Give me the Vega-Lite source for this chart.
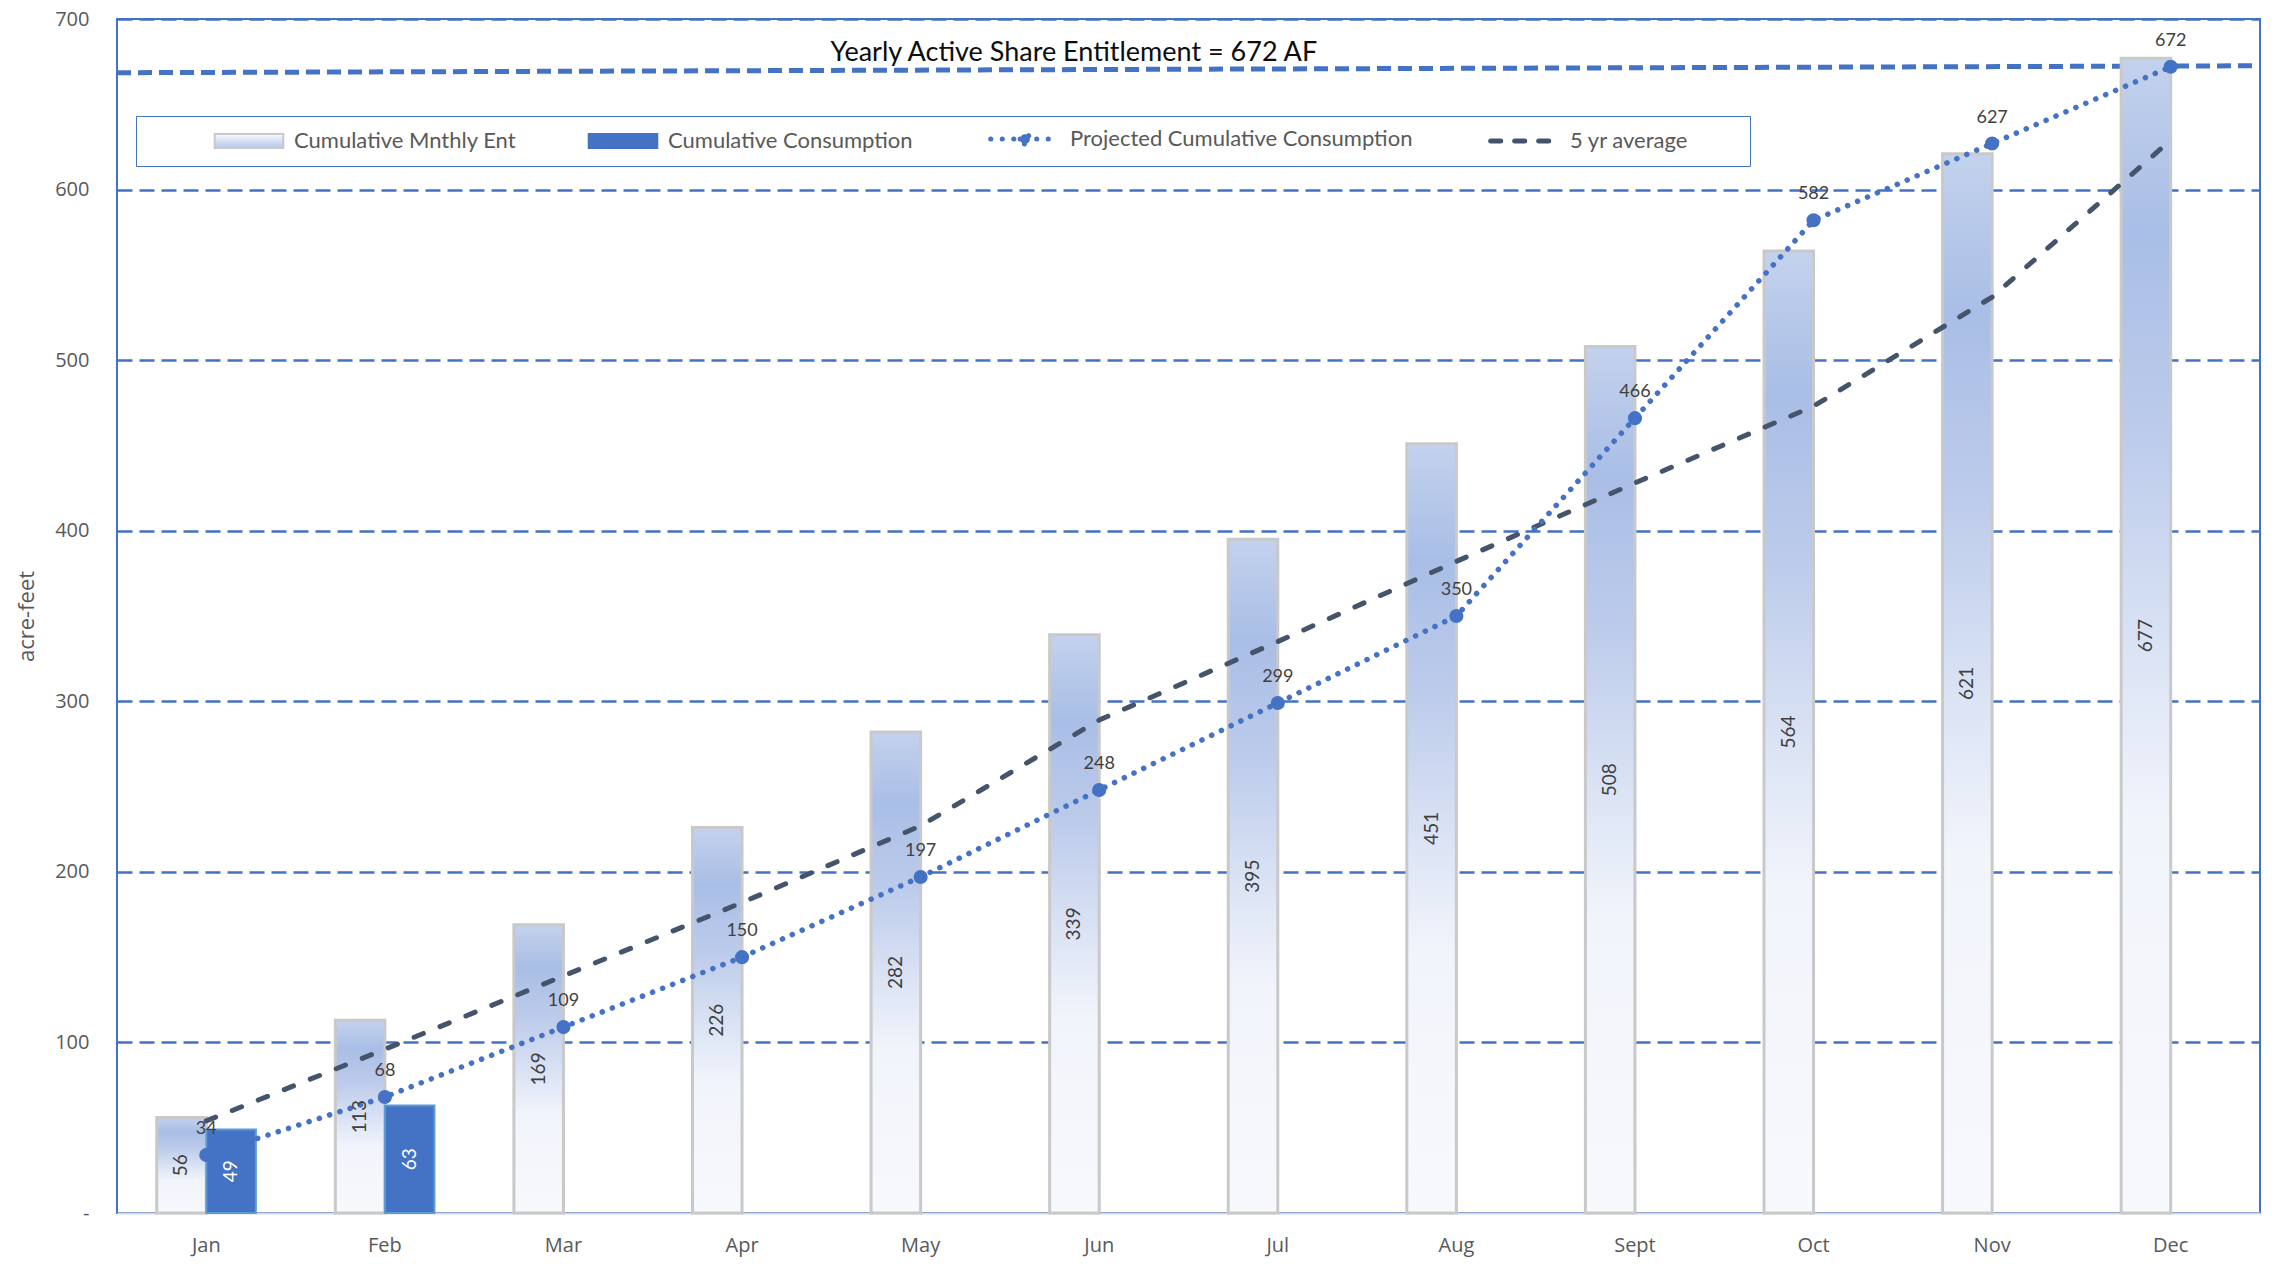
{
  "$schema": "https://vega.github.io/schema/vega-lite/v6.json",
  "width": 2143,
  "height": 1194,
  "autosize": {"type": "none"},
  "padding": {"left": 117, "top": 19, "right": 17, "bottom": 51},
  "background": "#ffffff",
  "config": {
    "font": "Lato",
    "view": {"stroke": "#4472c4", "strokeWidth": 2}
  },
  "datasets": {
    "bars": [
      {"month": "Jan", "series": "ent", "value": 56},
      {"month": "Feb", "series": "ent", "value": 113},
      {"month": "Mar", "series": "ent", "value": 169},
      {"month": "Apr", "series": "ent", "value": 226},
      {"month": "May", "series": "ent", "value": 282},
      {"month": "Jun", "series": "ent", "value": 339},
      {"month": "Jul", "series": "ent", "value": 395},
      {"month": "Aug", "series": "ent", "value": 451},
      {"month": "Sept", "series": "ent", "value": 508},
      {"month": "Oct", "series": "ent", "value": 564},
      {"month": "Nov", "series": "ent", "value": 621},
      {"month": "Dec", "series": "ent", "value": 677},
      {"month": "Jan", "series": "cons", "value": 49},
      {"month": "Feb", "series": "cons", "value": 63}
    ],
    "lines": [
      {"month": "Jan", "proj": 34, "avg": 54},
      {"month": "Feb", "proj": 68, "avg": 96},
      {"month": "Mar", "proj": 109, "avg": 139},
      {"month": "Apr", "proj": 150, "avg": 182},
      {"month": "May", "proj": 197, "avg": 227},
      {"month": "Jun", "proj": 248, "avg": 289},
      {"month": "Jul", "proj": 299, "avg": 335},
      {"month": "Aug", "proj": 350, "avg": 382},
      {"month": "Sept", "proj": 466, "avg": 428},
      {"month": "Oct", "proj": 582, "avg": 473},
      {"month": "Nov", "proj": 627, "avg": 537},
      {"month": "Dec", "proj": 672, "avg": 629}
    ],
    "entitlement": [
      {"pos": 0, "af": 668.5},
      {"pos": 1, "af": 672.6}
    ],
    "caption": [
      {"label": "Yearly Active Share Entitlement = 672 AF"}
    ]
  },
  "resolve": {"scale": {"x": "independent", "y": "independent", "xOffset": "independent"}},
  "layer": [
    {
      "layer": [
        {
          "data": {"name": "entitlement"},
          "mark": {"type": "line", "stroke": "#4472c4", "strokeWidth": 5, "strokeDash": [14, 7]},
          "encoding": {
            "x": {"field": "pos", "type": "quantitative", "scale": {"domain": [0, 1], "nice": false, "zero": false}, "axis": null},
            "y": {"field": "af", "type": "quantitative", "scale": {"domain": [0, 700], "nice": false}, "axis": null}
          }
        },
        {
          "data": {"name": "caption"},
          "mark": {"type": "text", "font": "Lato", "fontSize": 27, "fill": "#0d0d0d", "baseline": "middle", "align": "center"},
          "encoding": {
            "x": {"datum": 0.4465, "type": "quantitative"},
            "y": {"datum": 680, "type": "quantitative"},
            "text": {"field": "label"}
          }
        }
      ]
    },
    {
      "layer": [
        {
          "data": {"name": "bars"},
          "transform": [{"filter": "datum.series === 'ent'"}],
          "mark": {
            "type": "bar",
            "fill": {
              "gradient": "linear", "x1": 0, "y1": 0, "x2": 0, "y2": 1,
              "stops": [
                {"offset": 0, "color": "#c3d2ed"},
                {"offset": 0.15, "color": "#a9bee6"},
                {"offset": 0.32, "color": "#bccbeb"},
                {"offset": 0.5, "color": "#d9e2f4"},
                {"offset": 0.66, "color": "#f1f4fb"},
                {"offset": 1, "color": "#f8f9fd"}
              ]
            },
            "stroke": "#c9c9c9",
            "strokeWidth": 3
          },
          "encoding": {
            "x": {
              "field": "month", "type": "nominal", "sort": null,
              "scale": {"domain": ["Jan", "Feb", "Mar", "Apr", "May", "Jun", "Jul", "Aug", "Sept", "Oct", "Nov", "Dec"], "paddingInner": 0.445, "paddingOuter": 0.2225},
              "axis": {
                "orient": "bottom", "title": null, "labelAngle": 0, "labelFont": "Open Sans", "labelFontSize": 20, "labelColor": "#595959",
                "labelPadding": 22, "ticks": false, "grid": false, "domainColor": "#d9d9d9", "domainWidth": 2
              }
            },
            "xOffset": {"field": "series", "scale": {"domain": ["ent", "cons"], "paddingInner": 0, "paddingOuter": 0}},
            "y": {
              "field": "value", "type": "quantitative",
              "scale": {"domain": [0, 700], "nice": false},
              "axis": {
                "orient": "left", "title": "acre-feet", "titleFont": "Open Sans", "titleFontSize": 22, "titleFontWeight": "normal",
                "titleColor": "#595959", "titlePadding": 16,
                "values": [0, 100, 200, 300, 400, 500, 600, 700],
                "labelExpr": "datum.value === 0 ? '-' : datum.label",
                "labelFont": "Open Sans", "labelFontSize": 20, "labelColor": "#595959", "labelPadding": 28,
                "ticks": false, "domain": false, "grid": true,
                "gridColor": {"condition": {"test": "datum.value === 0", "value": "transparent"}, "value": "#4472c4"},
                "gridDash": [15, 7], "gridWidth": 2.5
              }
            }
          }
        },
        {
          "data": {"name": "bars"},
          "transform": [{"filter": "datum.series === 'cons'"}],
          "mark": {"type": "bar", "fill": "#4472c4", "stroke": "#5b9bd5", "strokeWidth": 2},
          "encoding": {
            "x": {"field": "month", "type": "nominal", "sort": null, "scale": {"domain": ["Jan", "Feb", "Mar", "Apr", "May", "Jun", "Jul", "Aug", "Sept", "Oct", "Nov", "Dec"]}},
            "xOffset": {"field": "series", "scale": {"domain": ["ent", "cons"]}},
            "y": {"field": "value", "type": "quantitative", "scale": {"domain": [0, 700], "nice": false}}
          }
        },
        {
          "data": {"name": "lines"},
          "mark": {"type": "line", "stroke": "#44546a", "strokeWidth": 5, "strokeDash": [10, 18], "strokeCap": "round"},
          "encoding": {
            "x": {"field": "month", "type": "nominal", "sort": null, "scale": {"domain": ["Jan", "Feb", "Mar", "Apr", "May", "Jun", "Jul", "Aug", "Sept", "Oct", "Nov", "Dec"]}},
            "y": {"field": "avg", "type": "quantitative", "scale": {"domain": [0, 700], "nice": false}}
          }
        },
        {
          "data": {"name": "lines"},
          "mark": {"type": "line", "strokeWidth": 5.5, "strokeDash": [0.1, 10.7], "strokeCap": "round"},
          "encoding": {
            "x": {"field": "month", "type": "nominal", "sort": null, "scale": {"domain": ["Jan", "Feb", "Mar", "Apr", "May", "Jun", "Jul", "Aug", "Sept", "Oct", "Nov", "Dec"]}},
            "y": {"field": "proj", "type": "quantitative", "scale": {"domain": [0, 700], "nice": false}},
            "color": {
              "datum": "Projected Cumulative Consumption", "type": "nominal",
              "scale": {
                "domain": ["Cumulative Mnthly Ent", "Cumulative Consumption", "Projected Cumulative Consumption", "5 yr average"],
                "range": ["#c9c9c9", "#4472c4", "#4472c4", "#44546a"]
              },
              "legend": {
                "title": "\u00a0", "titleOrient": "left", "titlePadding": 90, "titleFontSize": 22,
                "orient": "none", "legendX": 19, "legendY": 97, "direction": "horizontal",
                "padding": 12, "strokeColor": "#4472c4", "fillColor": "#ffffff",
                "labelFont": "Lato", "labelFontSize": 22, "labelColor": "#595959", "labelLimit": 0, "labelOffset": 34,
                "columnPadding": 67, "symbolSize": 196,
                "labelExpr": "datum.value === '5 yr average' ? datum.label + '\u2003\u2003\u2003\u200b' : datum.label",
                "encode": {
                  "symbols": {
                    "update": {
                      "shape": {
                        "signal": "datum.value === 'Projected Cumulative Consumption' ? 'M-4.9,0H4.9M-0.7,0A0.7,0.7 0 1 1 0.7,0A0.7,0.7 0 1 1 -0.7,0Z' : datum.value === '5 yr average' ? 'M-4.9,0H4.9' : 'M-4.9,-1H4.9V1H-4.9Z'"
                      },
                      "fill": {
                        "signal": "datum.value === 'Cumulative Mnthly Ent' ? {gradient: 'linear', x1: 0, y1: 0, x2: 0, y2: 1, stops: [{offset: 0, color: '#f8f9fd'}, {offset: 1, color: '#b3c6e9'}]} : datum.value === '5 yr average' ? 'transparent' : '#4472c4'"
                      },
                      "stroke": {
                        "signal": "datum.value === 'Cumulative Mnthly Ent' ? '#c9c9c9' : datum.value === 'Cumulative Consumption' ? '#5b9bd5' : datum.value === '5 yr average' ? '#44546a' : '#4472c4'"
                      },
                      "strokeWidth": {
                        "signal": "datum.value === 'Cumulative Mnthly Ent' || datum.value === 'Cumulative Consumption' ? 2 : 5"
                      },
                      "strokeDash": {
                        "signal": "datum.value === 'Projected Cumulative Consumption' ? [0.1, 11.4] : datum.value === '5 yr average' ? [10, 14] : [1, 0]"
                      },
                      "strokeCap": {"value": "round"},
                      "opacity": {"value": 1}
                    }
                  }
                }
              }
            }
          }
        },
        {
          "data": {"name": "lines"},
          "mark": {"type": "point", "filled": true, "size": 200, "fill": "#4472c4", "opacity": 1},
          "encoding": {
            "x": {"field": "month", "type": "nominal", "sort": null, "scale": {"domain": ["Jan", "Feb", "Mar", "Apr", "May", "Jun", "Jul", "Aug", "Sept", "Oct", "Nov", "Dec"]}},
            "y": {"field": "proj", "type": "quantitative", "scale": {"domain": [0, 700], "nice": false}}
          }
        },
        {
          "data": {"name": "lines"},
          "mark": {"type": "text", "font": "Lato", "fontSize": 18, "fill": "#404040", "baseline": "middle", "align": "center", "dy": -26},
          "encoding": {
            "x": {"field": "month", "type": "nominal", "sort": null, "scale": {"domain": ["Jan", "Feb", "Mar", "Apr", "May", "Jun", "Jul", "Aug", "Sept", "Oct", "Nov", "Dec"]}},
            "y": {"field": "proj", "type": "quantitative", "scale": {"domain": [0, 700], "nice": false}},
            "text": {"field": "proj"}
          }
        }
      ]
    },
    {
      "layer": [
        {
          "data": {"name": "bars"},
          "transform": [{"filter": "datum.series === 'ent'"}],
          "mark": {"type": "text", "angle": 270, "font": "Lato", "fontSize": 19, "baseline": "middle", "align": "center", "dy": -24.8, "fill": "#404040"},
          "encoding": {
            "x": {
              "field": "month", "type": "nominal", "sort": null,
              "scale": {"domain": ["Jan", "Feb", "Mar", "Apr", "May", "Jun", "Jul", "Aug", "Sept", "Oct", "Nov", "Dec"], "paddingInner": 0.445, "paddingOuter": 0.2225},
              "axis": null
            },
            "y": {"field": "value", "type": "quantitative", "scale": {"domain": [0, 1400], "nice": false}, "axis": null},
            "text": {"field": "value"}
          }
        },
        {
          "data": {"name": "bars"},
          "transform": [{"filter": "datum.series === 'cons'"}],
          "mark": {"type": "text", "angle": 270, "font": "Lato", "fontSize": 19, "baseline": "middle", "align": "center", "dy": 24.8, "fill": "#ffffff"},
          "encoding": {
            "x": {"field": "month", "type": "nominal", "sort": null, "scale": {"domain": ["Jan", "Feb", "Mar", "Apr", "May", "Jun", "Jul", "Aug", "Sept", "Oct", "Nov", "Dec"]}},
            "y": {"field": "value", "type": "quantitative", "scale": {"domain": [0, 1400], "nice": false}},
            "text": {"field": "value"}
          }
        }
      ]
    }
  ]
}
